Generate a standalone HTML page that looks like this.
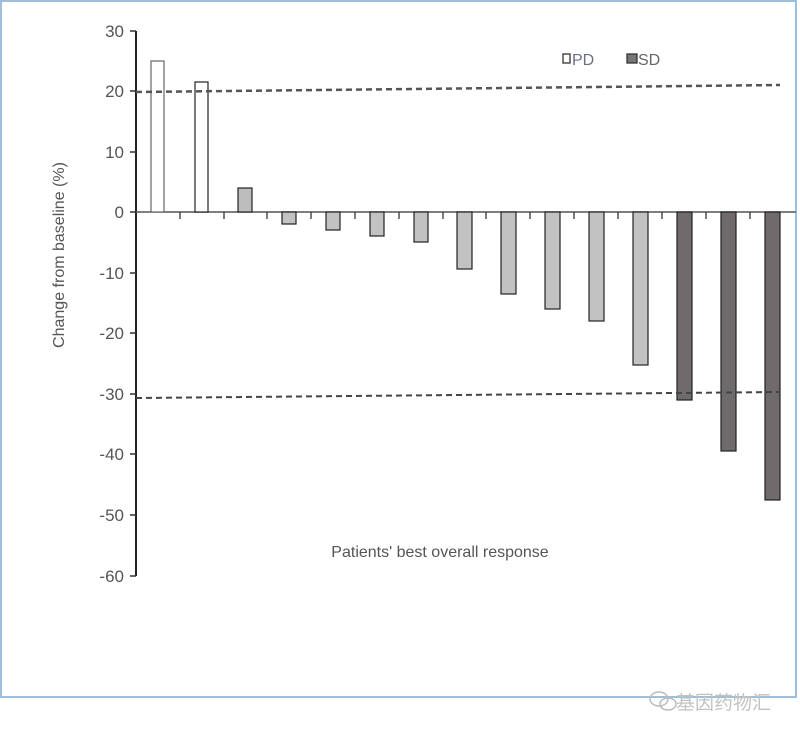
<!DOCTYPE html>
<html><head><meta charset="utf-8"><style>
body{margin:0;background:#fff;}
svg text{font-family:"Liberation Sans","Noto Sans CJK SC",sans-serif;}
</style></head><body>
<svg width="800" height="734" viewBox="0 0 800 734" xmlns="http://www.w3.org/2000/svg">
<rect x="0" y="0" width="800" height="734" fill="#fff"/>
<rect x="1" y="1" width="795" height="696" fill="none" stroke="#9cc0dc" stroke-width="2"/>
<!-- axes -->
<line x1="136" y1="31" x2="136" y2="576" stroke="#222" stroke-width="2"/>
<line x1="136" y1="212" x2="796" y2="212" stroke="#555" stroke-width="1.5"/>
<g stroke="#333" stroke-width="1.5">
<line x1="130" y1="31" x2="136" y2="31"/><line x1="130" y1="91" x2="136" y2="91"/><line x1="130" y1="152" x2="136" y2="152"/><line x1="130" y1="212" x2="136" y2="212"/><line x1="130" y1="273" x2="136" y2="273"/><line x1="130" y1="333" x2="136" y2="333"/><line x1="130" y1="394" x2="136" y2="394"/><line x1="130" y1="454" x2="136" y2="454"/><line x1="130" y1="515" x2="136" y2="515"/><line x1="130" y1="576" x2="136" y2="576"/>
</g>
<g stroke="#333" stroke-width="1.3">
<line x1="180" y1="212" x2="180" y2="219"/><line x1="224" y1="212" x2="224" y2="219"/><line x1="267" y1="212" x2="267" y2="219"/><line x1="311" y1="212" x2="311" y2="219"/><line x1="355" y1="212" x2="355" y2="219"/><line x1="399" y1="212" x2="399" y2="219"/><line x1="443" y1="212" x2="443" y2="219"/><line x1="486" y1="212" x2="486" y2="219"/><line x1="530" y1="212" x2="530" y2="219"/><line x1="574" y1="212" x2="574" y2="219"/><line x1="618" y1="212" x2="618" y2="219"/><line x1="662" y1="212" x2="662" y2="219"/><line x1="706" y1="212" x2="706" y2="219"/><line x1="750" y1="212" x2="750" y2="219"/>
</g>
<g font-size="17" fill="#555" text-anchor="end">
<text x="124" y="37">30</text><text x="124" y="97">20</text><text x="124" y="158">10</text><text x="124" y="218">0</text><text x="124" y="279">-10</text><text x="124" y="339">-20</text><text x="124" y="400">-30</text><text x="124" y="460">-40</text><text x="124" y="521">-50</text><text x="124" y="582">-60</text>
</g>
<text transform="translate(64,255) rotate(-90)" font-size="16" fill="#555" text-anchor="middle">Change from baseline (%)</text>
<text x="440" y="557" font-size="16" fill="#555" text-anchor="middle">Patients'  best overall response</text>
<!-- bars -->
<g stroke="#222" stroke-width="1.2">
<rect x="151" y="61" width="13" height="151" fill="#fff" stroke="#666"/>
<rect x="195" y="82" width="13" height="130" fill="#fff"/>
<rect x="238" y="188" width="14" height="24" fill="#bdbdbd"/>
<rect x="282" y="212" width="14" height="12" fill="#c2c2c2"/>
<rect x="326" y="212" width="14" height="18" fill="#c2c2c2"/>
<rect x="370" y="212" width="14" height="24" fill="#c2c2c2"/>
<rect x="414" y="212" width="14" height="30" fill="#c2c2c2"/>
<rect x="457" y="212" width="15" height="57" fill="#c2c2c2"/>
<rect x="501" y="212" width="15" height="82" fill="#c2c2c2"/>
<rect x="545" y="212" width="15" height="97" fill="#c2c2c2"/>
<rect x="589" y="212" width="15" height="109" fill="#c2c2c2"/>
<rect x="633" y="212" width="15" height="153" fill="#c2c2c2"/>
<rect x="677" y="212" width="15" height="188" fill="#6f6b6d"/>
<rect x="721" y="212" width="15" height="239" fill="#6f6b6d"/>
<rect x="765" y="212" width="15" height="288" fill="#6f6b6d"/>
</g>
<!-- dashed reference lines -->
<line x1="136" y1="92" x2="780" y2="85" stroke="#555" stroke-width="2.5" stroke-dasharray="6,4"/>
<line x1="136" y1="398" x2="780" y2="392" stroke="#444" stroke-width="2" stroke-dasharray="6,4"/>
<!-- legend -->
<rect x="563" y="54" width="7" height="9" fill="#fff" stroke="#333" stroke-width="1.3"/>
<text x="572" y="65" font-size="16" fill="#6a6f88">PD</text>
<rect x="627" y="54" width="10" height="9" fill="#777" stroke="#333" stroke-width="1.3"/>
<text x="638" y="65" font-size="16" fill="#666">SD</text>
<!-- watermark -->
<g fill="none" stroke="#bbb" stroke-width="1.5"><ellipse cx="659" cy="699" rx="9" ry="7"/><ellipse cx="668" cy="704" rx="8" ry="6"/></g>
<text x="676" y="709" font-size="19" fill="#c2c2c2">基因药物汇</text>
</svg>
</body></html>
